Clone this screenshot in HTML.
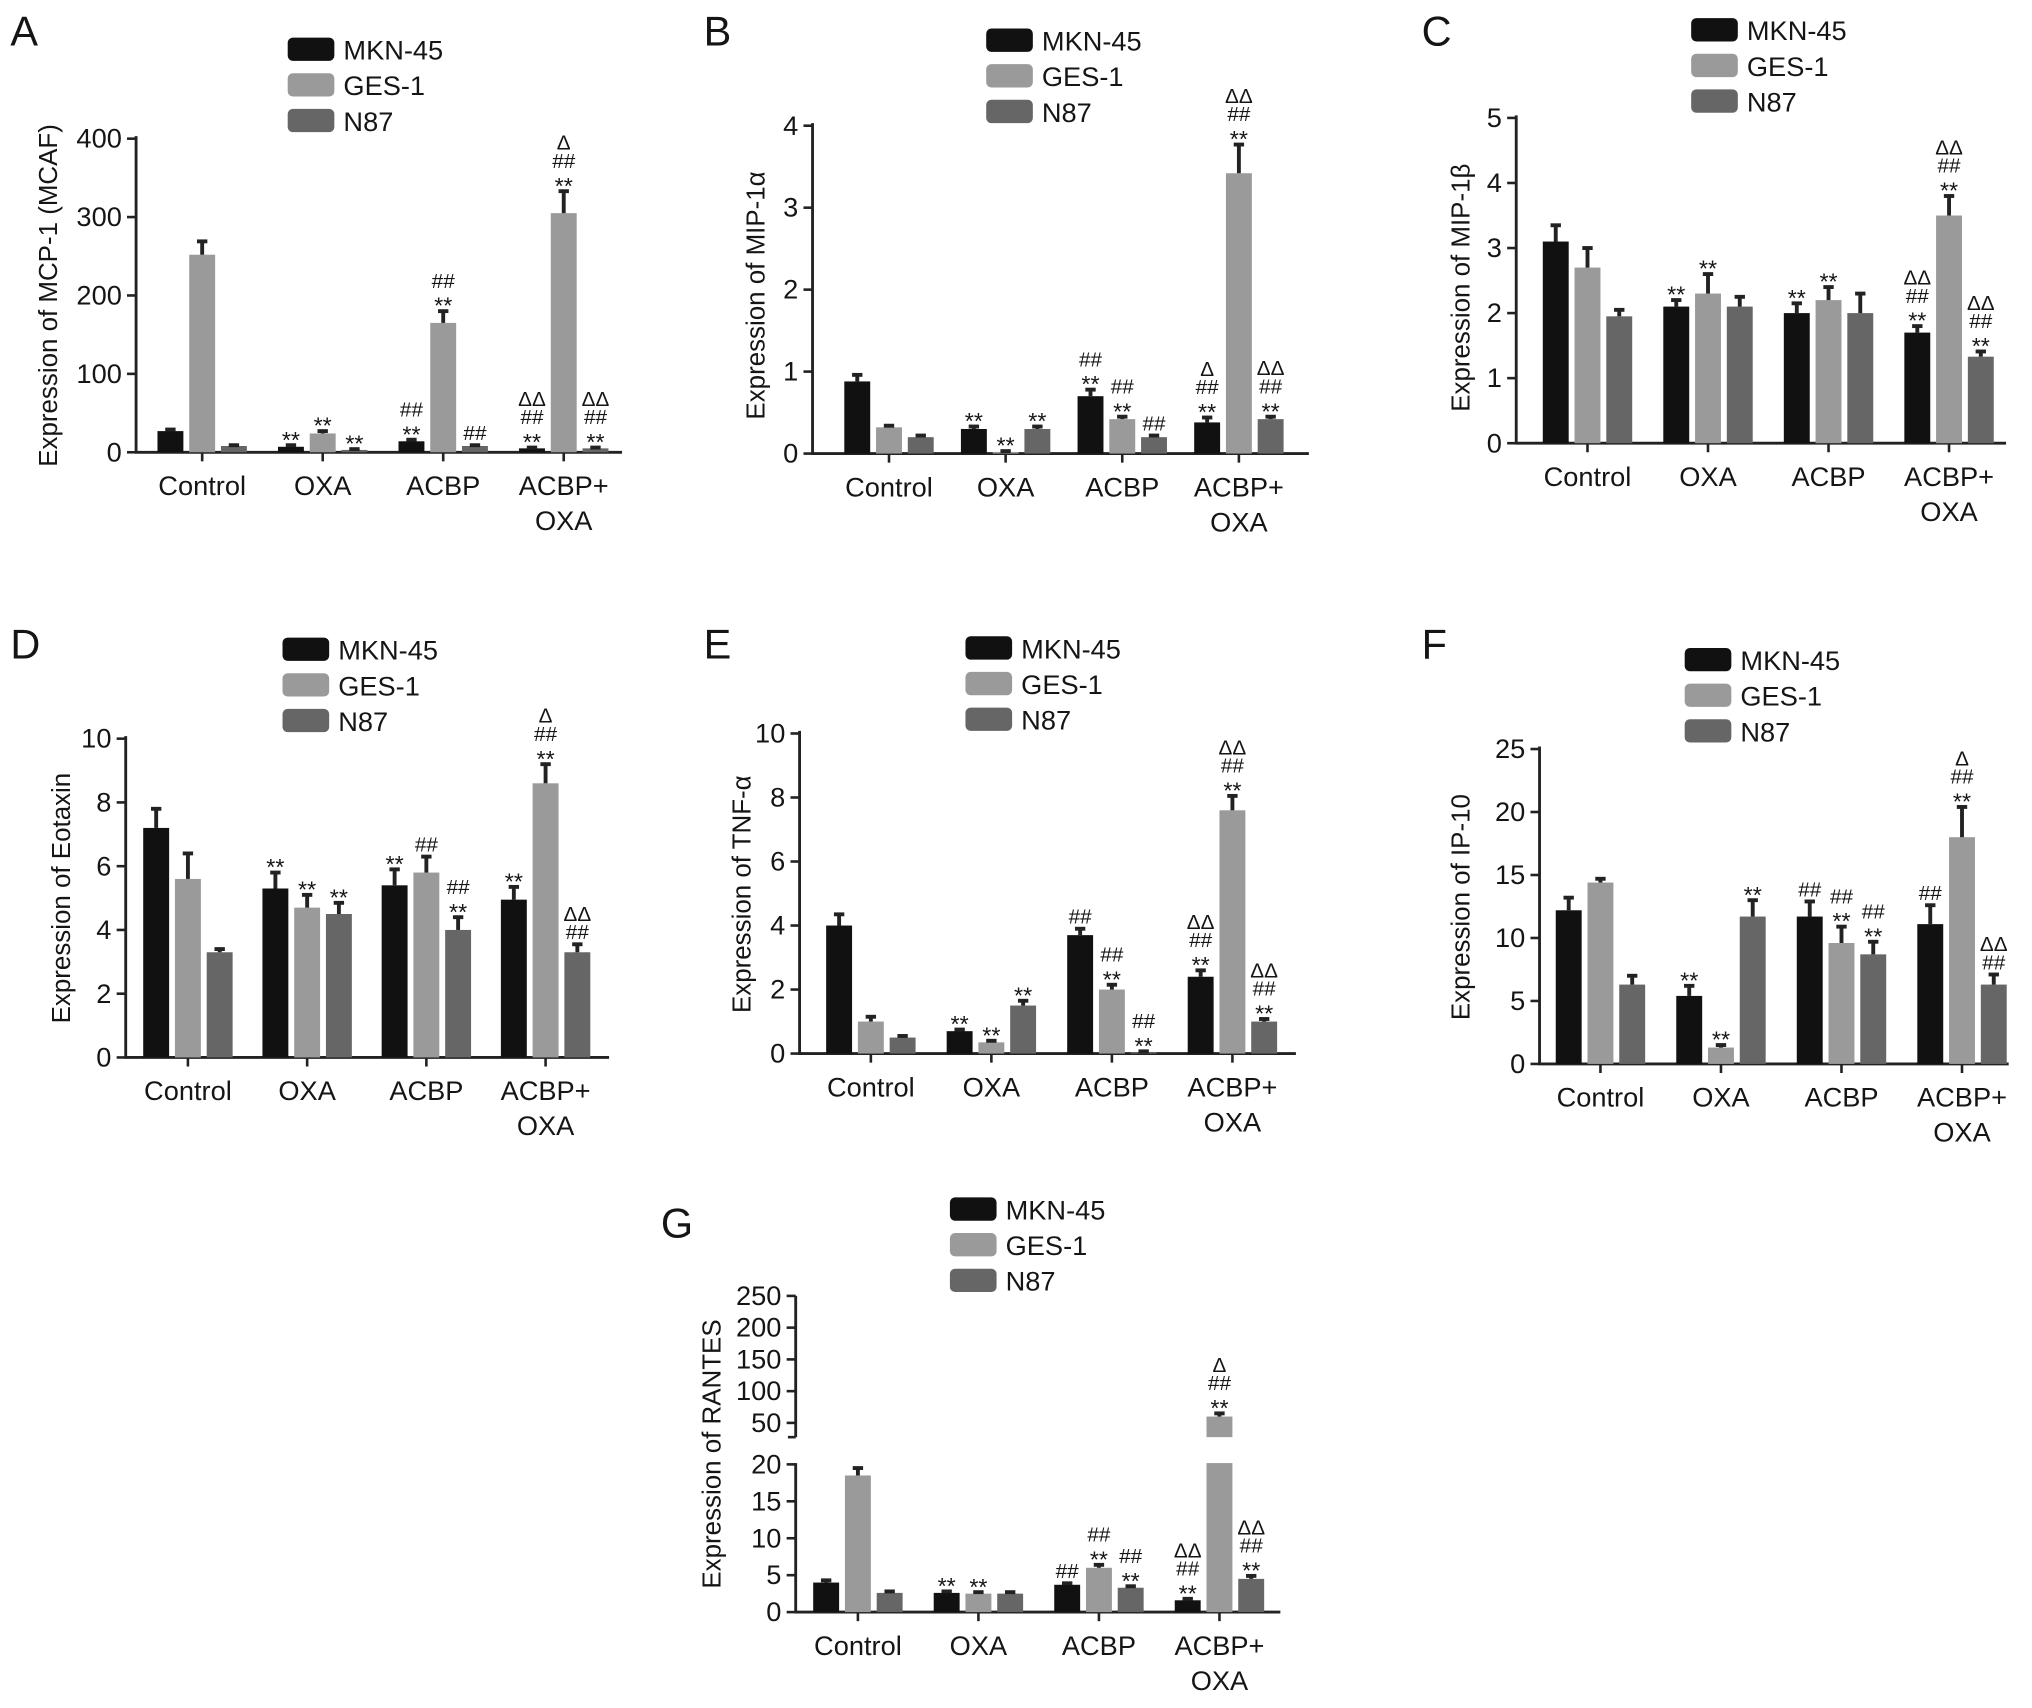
<!DOCTYPE html>
<html><head><meta charset="utf-8"><style>
html,body{margin:0;padding:0;background:#fff}
svg{display:block}
text{font-family:"Liberation Sans",sans-serif;fill:#151515}
</style></head><body>
<svg id="fig" width="2032" height="1708" viewBox="0 0 1568 1318" xmlns="http://www.w3.org/2000/svg"></svg>
<script>
const categories=["Control","OXA","ACBP","ACBP+|OXA"];
const seriesNames=["MKN-45","GES-1","N87"];
const colors=["#111","#9a9a9a","#666"];
// Panel A
const aMKN=[27,7,14,5], aGES=[252,24,165,305], aN87=[8,3,8,5];
const aErr=[[2,2,2,1],[17,3,15,28],[1,1,1,1]];
const aTicks=[0,100,200,300,400];
const aAnn=[["","**","##|**","ΔΔ|##|**"],["","**","##|**","Δ|##|**"],["","**","##","ΔΔ|##|**"]];
// Panel B
const bMKN=[0.88,0.3,0.7,0.38], bGES=[0.32,0.02,0.42,3.42], bN87=[0.2,0.3,0.2,0.42];
const bErr=[[0.08,0.03,0.08,0.06],[0.02,0.01,0.03,0.35],[0.02,0.03,0.02,0.03]];
const bTicks=[0,1,2,3,4];
const bAnn=[["","**","##|**","Δ|##|**"],["","**","##|**","ΔΔ|##|**"],["","**","##","ΔΔ|##|**"]];
// Panel C
const cMKN=[3.1,2.1,2.0,1.7], cGES=[2.7,2.3,2.2,3.5], cN87=[1.95,2.1,2.0,1.33];
const cErr=[[0.25,0.1,0.15,0.1],[0.3,0.3,0.2,0.3],[0.1,0.15,0.3,0.08]];
const cTicks=[0,1,2,3,4,5];
const cAnn=[["","**","**","ΔΔ|##|**"],["","**","**","ΔΔ|##|**"],["","","","ΔΔ|##|**"]];
// Panel D
const dMKN=[7.2,5.3,5.4,4.95], dGES=[5.6,4.7,5.8,8.6], dN87=[3.3,4.5,4.0,3.3];
const dErr=[[0.6,0.5,0.5,0.4],[0.8,0.4,0.5,0.6],[0.1,0.35,0.4,0.25]];
const dTicks=[0,2,4,6,8,10];
const dAnn=[["","**","**","**"],["","**","##","Δ|##|**"],["","**","##|**","ΔΔ|##"]];
// Panel E
const eMKN=[4.0,0.7,3.7,2.4], eGES=[1.0,0.35,2.0,7.6], eN87=[0.5,1.5,0.05,1.0];
const eErr=[[0.35,0.05,0.2,0.2],[0.15,0.05,0.15,0.45],[0.05,0.15,0.02,0.08]];
const eTicks=[0,2,4,6,8,10];
const eAnn=[["","**","##","ΔΔ|##|**"],["","**","##|**","ΔΔ|##|**"],["","**","##|**","ΔΔ|##|**"]];
// Panel F
const fMKN=[12.2,5.4,11.7,11.1], fGES=[14.4,1.3,9.6,18], fN87=[6.3,11.7,8.7,6.3];
const fErr=[[1,0.8,1.2,1.5],[0.3,0.2,1.3,2.4],[0.7,1.3,1,0.8]];
const fTicks=[0,5,10,15,20,25];
const fAnn=[["","**","##","##"],["","**","##|**","Δ|##|**"],["","**","##|**","ΔΔ|##"]];
// Panel G
const gMKN=[4,2.6,3.7,1.6], gGES=[18.5,2.5,6,60], gN87=[2.6,2.5,3.3,4.5];
const gErr=[[0.3,0.2,0.2,0.2],[1,0.2,0.4,5],[0.2,0.2,0.2,0.4]];
const gTicksLow=[0,5,10,15,20];
const gTicksHigh=[50,100,150,200,250];
const gAnn=[["","**","##","ΔΔ|##|**"],["","**","##|**","Δ|##|**"],["","","##|**","ΔΔ|##|**"]];

const NS="http://www.w3.org/2000/svg";
const svg=document.getElementById('fig');
function mk(tag,attrs,parent,txt){const e=document.createElementNS(NS,tag);for(const k in attrs)e.setAttribute(k,attrs[k]);if(txt!==undefined)e.textContent=txt;(parent||svg).appendChild(e);return e;}

function panel(p){
  const g=mk('g',{},svg);
  
  
  const t0=mk('text',{x:p.lx,y:p.ly,'font-size':32},g,p.letter);
  
  
  seriesNames.forEach((n,i)=>{
    const r=mk('rect',{x:p.legX,y:p.legY+i*27.5-9,width:36,height:18,rx:4,fill:colors[i]},g);
    
    
    const t=mk('text',{x:p.legX+43,y:p.legY+i*27.5+8,'font-size':21},g,n);
    
    
  });
  const y=p.yf;
  const ax=mk('line',{x1:p.ax,x2:p.ax,y1:p.axTop,y2:p.zero,stroke:'#222','stroke-width':2.2},g);
  
  
  if(p.axTop2!==undefined){
    const ax2=mk('line',{x1:p.ax,x2:p.ax,y1:p.axTop2,y2:p.axBot2,stroke:'#222','stroke-width':2.2},g);
    
    
    mk('line',{x1:p.ax-6,x2:p.ax,y1:p.axBot2,y2:p.axBot2,stroke:'#222','stroke-width':2},g);
  }
  p.ticks.forEach(v=>{
    const yy=p.tickY(v);
    mk('line',{x1:p.ax-7,x2:p.ax,y1:yy,y2:yy,stroke:'#222','stroke-width':2},g);
    const t=mk('text',{x:p.ax-11,y:yy+7,'font-size':21,'text-anchor':'end'},g,String(v));
    
    
  });
  const xa=mk('line',{x1:p.ax-1,x2:p.axEnd,y1:p.zero,y2:p.zero,stroke:'#222','stroke-width':2.2},g);
  
  
  const yt=mk('text',{x:0,y:0,'font-size':20,'text-anchor':'middle',transform:`translate(${p.ytx},${p.yty}) rotate(-90)`},g,p.ytitle);
  
  
  categories.forEach((c,ci)=>{
    const cx=p.g0+ci*p.gs;
    mk('line',{x1:cx,x2:cx,y1:p.zero,y2:p.zero+7,stroke:'#222','stroke-width':2},g);
    c.split('|').forEach((ln,li)=>{
      const t=mk('text',{x:cx,y:p.zero+33+li*27,'font-size':21,'text-anchor':'middle'},g,ln);
      
      
    });
    p.series.forEach((vals,si)=>{
      const bx=cx+(si-1)*24.5-10;
      const v=vals[ci], e=p.err[si][ci];
      const top=y(v), etop=y(v+e);
      const b=mk('rect',{x:bx,y:Math.min(top,p.zero),width:20,height:Math.abs(p.zero-top),fill:colors[si]},g);
      
      
      if(p.breakY!==undefined && v>20){mk('rect',{x:bx-2,y:p.breakY[0],width:24,height:p.breakY[1]-p.breakY[0],fill:'#fff'},g);}
      mk('line',{x1:bx+10,x2:bx+10,y1:top,y2:etop,stroke:'#222','stroke-width':3},g);
      mk('line',{x1:bx+6,x2:bx+14,y1:etop,y2:etop,stroke:'#222','stroke-width':3},g);
      const lines=p.ann[si][ci]?p.ann[si][ci].split('|'):[];
      const n=lines.length;
      lines.forEach((ln,li)=>{
        const isStar=ln==='**';
        const t=mk('text',{x:bx+10,y:etop-4-(n-1-li)*14+(isStar?6:0),'font-size':isStar?18:16,'text-anchor':'middle'},g,ln);
        
        
      });
    });
  });
}
function lin(zero,top,max){return v=>zero-(v/max)*(zero-top);}
const P=[
 {letter:'A',lx:8,ly:35,legX:222,legY:38,ax:105,axEnd:480,zero:349,axTop:105,yf:lin(349,107,400),g0:156,gs:93,ticks:aTicks,series:[aMKN,aGES,aN87],err:aErr,ann:aAnn,ytitle:'Expression of MCP-1 (MCAF)',ytx:44,yty:228},
 {letter:'B',lx:543,ly:35,legX:761,legY:31,ax:627,axEnd:1010,zero:350,axTop:95,yf:lin(350,97,4),g0:686,gs:90,ticks:bTicks,series:[bMKN,bGES,bN87],err:bErr,ann:bAnn,ytitle:'Expression of MIP-1α',ytx:590,yty:228},
 {letter:'C',lx:1097,ly:35,legX:1305,legY:23,ax:1170,axEnd:1548,zero:342,axTop:89,yf:lin(342,91,5),g0:1225,gs:93,ticks:cTicks,series:[cMKN,cGES,cN87],err:cErr,ann:cAnn,ytitle:'Expression of MIP-1β',ytx:1134,yty:222},
 {letter:'D',lx:8,ly:508,legX:218,legY:501,ax:97,axEnd:470,zero:816,axTop:568,yf:lin(816,570,10),g0:145,gs:92,ticks:dTicks,series:[dMKN,dGES,dN87],err:dErr,ann:dAnn,ytitle:'Expression of Eotaxin',ytx:54,yty:693},
 {letter:'E',lx:543,ly:508,legX:745,legY:500,ax:617,axEnd:1000,zero:813,axTop:564,yf:lin(813,566,10),g0:672,gs:93,ticks:eTicks,series:[eMKN,eGES,eN87],err:eErr,ann:eAnn,ytitle:'Expression of TNF-α',ytx:579,yty:690},
 {letter:'F',lx:1097,ly:508,legX:1300,legY:509,ax:1188,axEnd:1550,zero:821,axTop:576,yf:lin(821,578,25),g0:1235,gs:93,ticks:fTicks,series:[fMKN,fGES,fN87],err:fErr,ann:fAnn,ytitle:'Expression of IP-10',ytx:1134,yty:700},
];
P.forEach(p=>{p.tickY=p.yf;panel(p);});
const gLow=lin(1244,1130,20);
const gY=v=>v<=20?gLow(v):(v<40?1118:1098-(v-50)*(98/200));
panel({letter:'G',lx:510,ly:955,legX:733,legY:933,ax:614,axEnd:988,zero:1244,axTop:1129,axTop2:1000,axBot2:1109,breakY:[1109,1129],yf:gY,tickY:v=>v<=20?gLow(v):1098-(v-50)*(98/200),g0:662,gs:93,ticks:gTicksLow.concat(gTicksHigh),series:[gMKN,gGES,gN87],err:gErr,ann:gAnn,ytitle:'Expression of RANTES',ytx:556,yty:1122});
</script>
</body></html>
